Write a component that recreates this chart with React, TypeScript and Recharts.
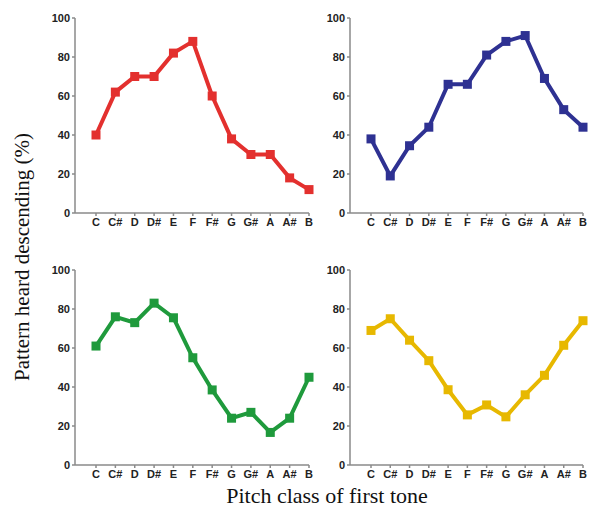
import { LineChart, Line, XAxis, YAxis } from 'recharts';

const pitchClasses = ['C', 'C#', 'D', 'D#', 'E', 'F', 'F#', 'G', 'G#', 'A', 'A#', 'B'];
const yTicks = [0, 20, 40, 60, 80, 100];

const redValues = [40, 62, 70, 70, 82, 88, 60, 38, 30, 30, 18, 12];
const blueValues = [38, 19, 34.5, 44, 66, 66, 81, 88, 91, 69, 53, 44];
const greenValues = [61, 76, 73, 83, 75.5, 55, 38.5, 24, 27, 16.7, 24, 45];
const yellowValues = [69, 75, 64, 53.5, 38.6, 25.7, 30.8, 24.7, 36, 46, 61.4, 74];

const tickStyle = { fill: '#222', fontSize: 11, fontWeight: 700, fontFamily: 'Arial, "Liberation Sans", sans-serif' };

const SquareDot = (color: string) => (props: any) => {
  const { cx, cy, index } = props;
  if (cx == null || cy == null) return <g key={index} />;
  return <rect key={index} x={cx - 4.5} y={cy - 4.5} width={9} height={9} fill={color} />;
};

interface PanelProps {
  values: number[];
  color: string;
  left: number;
  top: number;
  width: number;
}

const Panel: React.FC<PanelProps> = ({ values, color, left, top, width }) => {
  const data = pitchClasses.map((p, i) => ({ pitch: p, value: values[i] }));
  return (
    <div style={{ position: 'absolute', left, top }}>
      <LineChart width={width} height={232} data={data} margin={{ top: 10, right: 6, bottom: 5, left: 0 }}>
        <XAxis
          dataKey="pitch"
          interval={0}
          padding={{ left: 21, right: 0 }}
          stroke="#8a8a8a"
          strokeWidth={1.5}
          tickSize={3}
          tick={tickStyle}
          height={22}
        />
        <YAxis
          domain={[0, 100]}
          ticks={yTicks}
          width={35}
          stroke="#8a8a8a"
          strokeWidth={1.5}
          tickSize={3}
          tick={tickStyle}
        />
        <Line
          type="linear"
          dataKey="value"
          stroke={color}
          strokeWidth={4}
          dot={SquareDot(color)}
          activeDot={false}
          isAnimationActive={false}
        />
      </LineChart>
    </div>
  );
};

export default function App() {
  return (
    <div style={{ position: 'absolute', left: 0, top: 0, width: 589, height: 509, background: '#fff', overflow: 'hidden' }}>
      <Panel values={redValues} color="#e3302e" left={40} top={8} width={275} />
      <Panel values={blueValues} color="#2e3192" left={315} top={8} width={274} />
      <Panel values={greenValues} color="#1f9a3c" left={40} top={260} width={275} />
      <Panel values={yellowValues} color="#e7b800" left={315} top={260} width={274} />
      <div
        style={{
          position: 'absolute',
          left: 22,
          top: 257,
          transform: 'translate(-50%, -50%) rotate(-90deg)',
          whiteSpace: 'nowrap',
          fontFamily: '"Liberation Serif", "Times New Roman", serif',
          fontSize: 21,
          color: '#111',
        }}
      >
        Pattern heard descending (%)
      </div>
      <div
        style={{
          position: 'absolute',
          left: 327,
          top: 496,
          transform: 'translate(-50%, -50%)',
          whiteSpace: 'nowrap',
          fontFamily: '"Liberation Serif", "Times New Roman", serif',
          fontSize: 22,
          color: '#111',
        }}
      >
        Pitch class of first tone
      </div>
    </div>
  );
}
